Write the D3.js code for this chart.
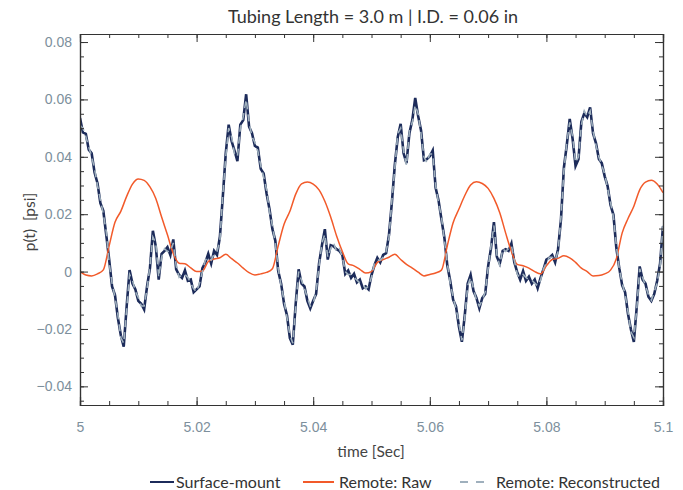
<!DOCTYPE html>
<html>
<head>
<meta charset="utf-8">
<script src="https://cdn.jsdelivr.net/npm/d3@7"></script>
<style>
  body { margin: 0; background: #fff; }
  svg { font-family: Lato, "Open Sans", sans-serif; }
</style>
</head>
<body>
<div id="chart"></div>
<script>
// time axis: navy + reconstructed sampled every 0.5 ms, raw every 1 ms
var t0 = 5.0, dtFine = 0.0005, dtRaw = 0.001;

var xTicks = [5, 5.02, 5.04, 5.06, 5.08, 5.1];
var yTicks = [-0.04, -0.02, 0, 0.02, 0.04, 0.06, 0.08];

// Surface-mount (noisy)
var surfaceMount = [
  0.0535, 0.0485, 0.0480, 0.0425, 0.0412, 0.0345, 0.0308, 0.0238, 0.0212, 0.0128,
  0.0042, -0.0052, -0.0082, -0.0162, -0.0222, -0.0262, -0.0122, 0.0005, -0.0042, -0.0062,
  -0.0102, -0.0112, -0.0132, -0.0052, 0.0012, 0.0142, 0.0088, -0.0028, 0.0062, 0.0072,
  0.0085, 0.0058, 0.0112, 0.0008, -0.0012, -0.0022, 0.0004, -0.0032, -0.0028, -0.0072,
  -0.0062, -0.0052, 0.0012, 0.0032, 0.0062, 0.0028, 0.0072, 0.0058, 0.0122, 0.0262,
  0.0412, 0.0512, 0.0455, 0.0422, 0.0385, 0.0512, 0.0528, 0.0618, 0.0505, 0.0482,
  0.0438, 0.0432, 0.0358, 0.0342, 0.0272, 0.0218, 0.0148, 0.0108, 0.0002, -0.0042,
  -0.0112, -0.0152, -0.0232, -0.0255, -0.0112, 0.0008, -0.0042, -0.0052, -0.0102, -0.0128,
  -0.0102, -0.0078, 0.0028, 0.0092, 0.0148, 0.0042, 0.0092, 0.0088, 0.0078, 0.0072,
  0.0058, -0.0008, 0.0004, -0.0022, -0.0008, -0.0038, -0.0028, -0.0058, -0.0052, -0.0062,
  -0.0012, 0.0022, 0.0048, 0.0032, 0.0058, 0.0064, 0.0128, 0.0242, 0.0372, 0.0468,
  0.0515, 0.0412, 0.0378, 0.0482, 0.0528, 0.0605, 0.0542, 0.0492, 0.0388, 0.0392,
  0.0402, 0.0422, 0.0292, 0.0248, 0.0182, 0.0118, 0.0022, -0.0032, -0.0098, -0.0122,
  -0.0192, -0.0245, -0.0152, -0.0042, -0.0012, -0.0068, -0.0092, -0.0128, -0.0092, -0.0078,
  0.0018, 0.0082, 0.0172, 0.0052, 0.0028, 0.0072, 0.0078, 0.0072, 0.0098, 0.0032,
  -0.0002, -0.0028, 0.0002, -0.0032, -0.0018, -0.0042, -0.0028, -0.0058, -0.0022, 0.0008,
  0.0042, 0.0048, 0.0058, 0.0032, 0.0078, 0.0182, 0.0362, 0.0442, 0.0532, 0.0462,
  0.0368, 0.0392, 0.0522, 0.0552, 0.0538, 0.0572, 0.0482, 0.0448, 0.0392, 0.0378,
  0.0332, 0.0298, 0.0232, 0.0198, 0.0082, 0.0012, -0.0048, -0.0072, -0.0148, -0.0202,
  -0.0245, -0.0122, 0.0018, -0.0028, -0.0042, -0.0088, -0.0102, -0.0078, -0.0032, 0.0028,
  0.0158
];

// Remote: Reconstructed (smoother, follows surface-mount)
var remoteRecon = [
  0.051, 0.050, 0.047, 0.0435, 0.040, 0.0358, 0.030, 0.025, 0.020, 0.014,
  0.003, -0.004, -0.009, -0.015, -0.023, -0.025, -0.013, -0.001, -0.003, -0.007,
  -0.009, -0.012, -0.012, -0.006, 0.002, 0.012, 0.010, -0.002, 0.005, 0.008,
  0.007, 0.007, 0.010, 0.002, -0.002, -0.001, -0.001, -0.002, -0.004, -0.006,
  -0.007, -0.004, 0.000, 0.004, 0.005, 0.004, 0.006, 0.007, 0.011, 0.027,
  0.040, 0.050, 0.047, 0.041, 0.040, 0.050, 0.054, 0.060, 0.052, 0.047,
  0.045, 0.042, 0.037, 0.033, 0.0285, 0.021, 0.016, 0.010, 0.001, -0.005,
  -0.010, -0.016, -0.022, -0.025, -0.012, 0.000, -0.003, -0.006, -0.009, -0.012,
  -0.011, -0.007, 0.002, 0.010, 0.013, 0.005, 0.008, 0.010, 0.007, 0.008,
  0.005, 0.000, -0.001, -0.001, -0.002, -0.003, -0.004, -0.0045, -0.006, -0.005,
  -0.002, 0.003, 0.004, 0.004, 0.005, 0.007, 0.012, 0.025, 0.036, 0.048,
  0.050, 0.042, 0.037, 0.049, 0.052, 0.058, 0.055, 0.048, 0.040, 0.038,
  0.041, 0.041, 0.030, 0.024, 0.019, 0.011, 0.003, -0.004, -0.009, -0.013,
  -0.018, -0.024, -0.016, -0.005, -0.002, -0.006, -0.010, -0.012, -0.010, -0.007,
  0.001, 0.009, 0.016, 0.006, 0.002, 0.008, 0.007, 0.008, 0.009, 0.004,
  -0.001, -0.002, -0.001, -0.002, -0.003, -0.003, -0.004, -0.005, -0.003, 0.001,
  0.003, 0.005, 0.005, 0.004, 0.007, 0.019, 0.035, 0.045, 0.052, 0.047,
  0.038, 0.040, 0.051, 0.056, 0.054, 0.056, 0.049, 0.044, 0.040, 0.037,
  0.034, 0.029, 0.024, 0.019, 0.009, 0.001, -0.004, -0.008, -0.014, -0.021,
  -0.023, -0.013, 0.001, -0.002, -0.005, -0.008, -0.010, -0.007, -0.004, 0.002,
  0.016
];

// Remote: Raw (smooth, 1 ms)
var remoteRaw = [
  0.0, -0.0012, -0.0015, -0.0008, 0.0006, 0.009, 0.0172, 0.021, 0.0262, 0.0305,
  0.0323, 0.0318, 0.0295, 0.0255, 0.019, 0.0128, 0.0063, 0.0029, 0.0027, 0.0013,
  0.0, 0.0002, 0.0035, 0.0044, 0.0048, 0.006, 0.0045, 0.003, 0.0012, -0.0004,
  -0.0012, -0.0008, -0.0003, 0.001, 0.009, 0.0165, 0.021, 0.027, 0.0306, 0.0312,
  0.0305, 0.0285, 0.0245, 0.019, 0.0125, 0.007, 0.0027, 0.002, 0.0008, -0.0005,
  0.0, 0.0032, 0.0042, 0.005, 0.006, 0.0042, 0.0025, 0.0012, -0.0002, -0.0015,
  -0.001, -0.0005, 0.0005, 0.009, 0.017, 0.0218, 0.0265, 0.0302, 0.0313, 0.0307,
  0.029, 0.0255, 0.0205, 0.0135, 0.007, 0.0025, 0.002, 0.0012, 0.0, -0.0008,
  0.002, 0.0042, 0.0046, 0.0055, 0.0048, 0.0032, 0.0012, 0.0, -0.0015, -0.0014,
  -0.0008, 0.0005, 0.0045, 0.0135, 0.0185, 0.0228, 0.0285, 0.0312, 0.0318, 0.0305,
  0.0275
];

var seriesNames = ["Surface-mount", "Remote: Raw", "Remote: Reconstructed"];
var seriesColors = ["#1c2b5a", "#f25a2a", "#9fb0bd"];

var width = 683, height = 490;
var margin = {top: 34, right: 20, bottom: 85, left: 80};

var svg = d3.select("#chart").append("svg")
    .attr("width", width).attr("height", height);

var x = d3.scaleLinear().domain([5, 5.1]).range([margin.left, 663]);
var y = d3.scaleLinear().domain([-0.0465, 0.0828]).range([405, margin.top]);

var fine = surfaceMount.map(function(v, i) { return [t0 + i * dtFine, v]; });
var recon = remoteRecon.map(function(v, i) { return [t0 + i * dtFine, v]; });
var raw = remoteRaw.map(function(v, i) { return [t0 + i * dtRaw, v]; });

var line = d3.line()
    .x(function(d) { return x(d[0]); })
    .y(function(d) { return y(d[1]); });

svg.append("clipPath").attr("id", "plot-clip")
  .append("rect")
    .attr("x", x(5)).attr("y", y(0.0828))
    .attr("width", x(5.1) - x(5)).attr("height", y(-0.0465) - y(0.0828));

var plot = svg.append("g").attr("clip-path", "url(#plot-clip)");

plot.append("path").datum(fine)
    .attr("fill", "none").attr("stroke", seriesColors[0])
    .attr("stroke-width", 2.6).attr("stroke-linejoin", "miter")
    .attr("d", line);

plot.append("path").datum(raw)
    .attr("fill", "none").attr("stroke", seriesColors[1])
    .attr("stroke-width", 1.5)
    .attr("d", line.curve(d3.curveMonotoneX));

plot.append("path").datum(recon)
    .attr("fill", "none").attr("stroke", seriesColors[2])
    .attr("stroke-width", 1.6).attr("stroke-dasharray", "7,5")
    .attr("d", line.curve(d3.curveLinear));

// axes with ticks on all four sides, pointing inward
var minorX = d3.range(0, 21).map(function(i) { return 5 + i * 0.005; });
var minorY = d3.range(-9, 17).map(function(i) { return i * 0.005; });

function styleAxis(g) {
  g.select(".domain").attr("stroke", "#333").attr("stroke-width", 1.2);
  g.selectAll(".tick line").attr("stroke", "#333");
}

var fmtX = function(d) { return d3.format("~g")(+d.toFixed(3)); };
var fmtY = function(d) { return Math.abs(d) < 1e-9 ? "0" : d3.format(".2f")(d); };

svg.append("g").attr("transform", "translate(0,405)")
    .call(d3.axisBottom(x).tickValues(minorX).tickSize(-4).tickFormat(""))
    .call(styleAxis);
svg.append("g").attr("transform", "translate(0,405)")
    .call(d3.axisBottom(x).tickValues(xTicks).tickSize(-8).tickPadding(17).tickFormat(fmtX))
    .call(styleAxis)
    .call(function(g) {
      g.selectAll("text").attr("fill", "#7d8f9c").style("font-size", "14px");
    });
svg.append("g").attr("transform", "translate(0," + margin.top + ")")
    .call(d3.axisTop(x).tickValues(minorX).tickSize(-4).tickFormat(""))
    .call(styleAxis);
svg.append("g").attr("transform", "translate(0," + margin.top + ")")
    .call(d3.axisTop(x).tickValues(xTicks).tickSize(-8).tickFormat(""))
    .call(styleAxis);

svg.append("g").attr("transform", "translate(" + margin.left + ",0)")
    .call(d3.axisLeft(y).tickValues(minorY).tickSize(-4).tickFormat(""))
    .call(styleAxis);
svg.append("g").attr("transform", "translate(" + margin.left + ",0)")
    .call(d3.axisLeft(y).tickValues(yTicks).tickSize(-8).tickPadding(8).tickFormat(fmtY))
    .call(styleAxis)
    .call(function(g) {
      g.selectAll("text").attr("fill", "#7d8f9c").style("font-size", "14px");
    });
svg.append("g").attr("transform", "translate(663,0)")
    .call(d3.axisRight(y).tickValues(minorY).tickSize(-4).tickFormat(""))
    .call(styleAxis);
svg.append("g").attr("transform", "translate(663,0)")
    .call(d3.axisRight(y).tickValues(yTicks).tickSize(-8).tickFormat(""))
    .call(styleAxis);

// titles
svg.append("text")
    .attr("x", 373).attr("y", 23)
    .attr("text-anchor", "middle").attr("fill", "#333")
    .style("font-size", "18px")
    .text("Tubing Length = 3.0 m | I.D. = 0.06 in");

svg.append("text")
    .attr("x", 371).attr("y", 457)
    .attr("text-anchor", "middle").attr("fill", "#444")
    .style("font-size", "15.5px")
    .text("time [Sec]");

svg.append("text")
    .attr("transform", "translate(35,222) rotate(-90)")
    .attr("text-anchor", "middle").attr("fill", "#444")
    .style("font-size", "15.5px")
    .attr("xml:space", "preserve")
    .text("p(t)  [psi]");

// legend
var legendX = [150, 303, 460];
var legend = svg.append("g").attr("transform", "translate(0,482)");
seriesNames.forEach(function(name, i) {
  var g = legend.append("g").attr("transform", "translate(" + legendX[i] + ",0)");
  g.append("line")
      .attr("x1", 0).attr("x2", i === 1 ? 31 : 24).attr("y1", 0).attr("y2", 0)
      .attr("stroke", seriesColors[i]).attr("stroke-width", 2)
      .attr("stroke-dasharray", i === 2 ? "8,8" : null);
  g.append("text")
      .attr("x", i === 1 ? 36 : (i === 2 ? 36 : 26)).attr("y", 5.5)
      .attr("fill", "#333").style("font-size", "16px")
      .text(name);
});
</script>
</body>
</html>
